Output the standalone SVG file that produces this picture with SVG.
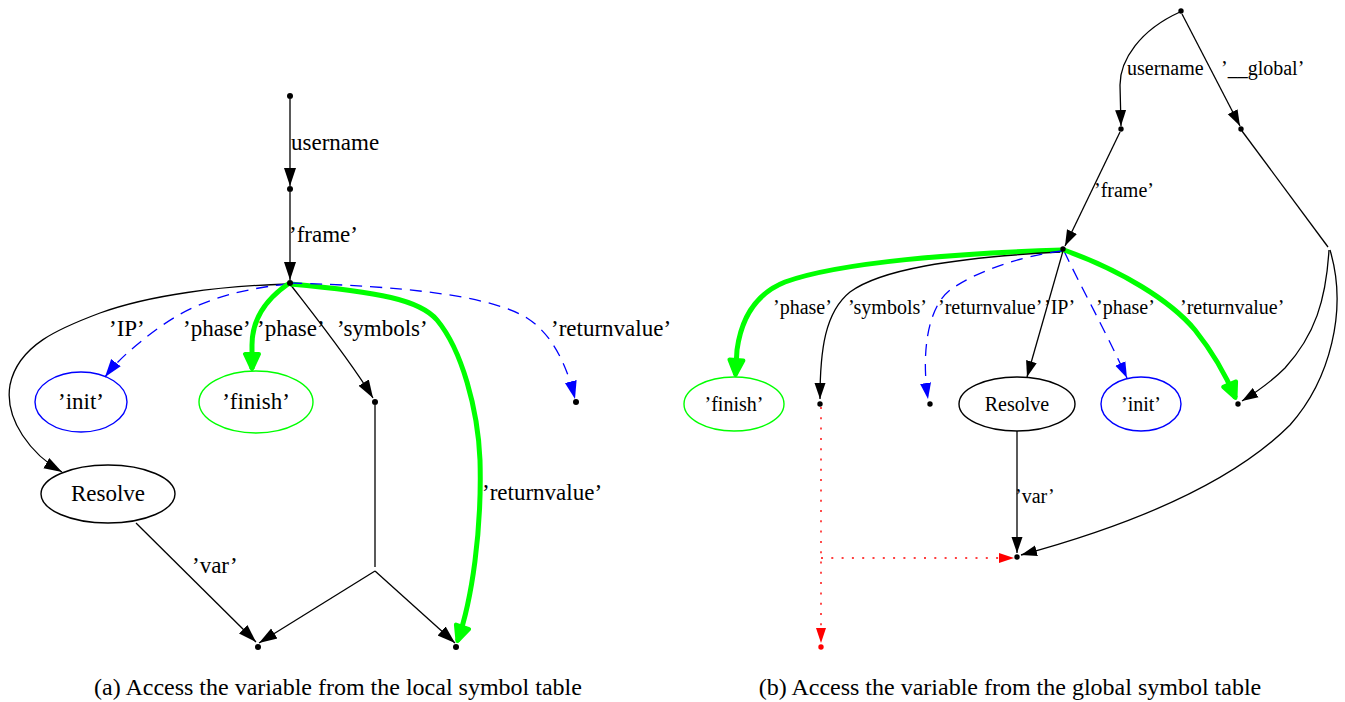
<svg xmlns="http://www.w3.org/2000/svg" width="1345" height="702" viewBox="0 0 1345 702">
  <style>
    text { font-family: "Liberation Serif", "Times New Roman", serif; fill: #000; }
    .l { font-size: 23px; }
    .r { font-size: 20px; }
    .mid { text-anchor: middle; }
    .cap { font-size: 24px; text-anchor: middle; }
    .e { fill: none; stroke: #000; stroke-width: 1.3; }
    .eb { fill: none; stroke: #00f; stroke-width: 1.3; stroke-dasharray: 12 8; }
    .eg { fill: none; stroke: #0f0; stroke-width: 5; }
    .er { fill: none; stroke: #f00; stroke-width: 1.4; stroke-dasharray: 2 8.3; }
    .pt { fill: #000; }
    .ptr { fill: #f00; }
    .nk { fill: none; stroke: #000; stroke-width: 1.4; }
    .nb { fill: none; stroke: #00f; stroke-width: 1.4; }
    .ng { fill: none; stroke: #0f0; stroke-width: 1.4; }
  </style>
  <defs>
    <!-- arrowheads: the path ends at the tip -->
    <marker id="ak" viewBox="0 -7 20 14" markerWidth="20" markerHeight="14" refX="18" refY="0" orient="auto" markerUnits="userSpaceOnUse">
      <path d="M0,-6 L18,0 L0,6 Z" fill="#000"/>
    </marker>
    <marker id="akS" viewBox="0 -6 18 12" markerWidth="18" markerHeight="12" refX="16" refY="0" orient="auto" markerUnits="userSpaceOnUse">
      <path d="M0,-5.5 L16,0 L0,5.5 Z" fill="#000"/>
    </marker>
    <marker id="ab" viewBox="0 -7 20 14" markerWidth="20" markerHeight="14" refX="18" refY="0" orient="auto" markerUnits="userSpaceOnUse">
      <path d="M0,-6 L18,0 L0,6 Z" fill="#00f"/>
    </marker>
    <marker id="abS" viewBox="0 -6 18 12" markerWidth="18" markerHeight="12" refX="16" refY="0" orient="auto" markerUnits="userSpaceOnUse">
      <path d="M0,-5.5 L16,0 L0,5.5 Z" fill="#00f"/>
    </marker>
    <marker id="ag" viewBox="-4 -11 24 22" markerWidth="24" markerHeight="22" refX="15" refY="0" orient="auto" markerUnits="userSpaceOnUse">
      <path d="M0,-7 L15,0 L0,7 Z" fill="#0f0" stroke="#0f0" stroke-width="4" stroke-linejoin="round"/>
    </marker>
    <marker id="ar" viewBox="0 -6 17 12" markerWidth="17" markerHeight="12" refX="15" refY="0" orient="auto" markerUnits="userSpaceOnUse">
      <path d="M0,-5 L15,0 L0,5 Z" fill="#f00"/>
    </marker>
  </defs>

  <!-- ===== (a) local symbol table ===== -->
  <g id="edges-a">
    <path class="e" d="M290,99 L290,186" marker-end="url(#ak)"/>
    <path class="e" d="M290,192 L290,280" marker-end="url(#ak)"/>
    <!-- 'IP' -->
    <path class="e" d="M288,284 C220,286 150,295 100,313 C60,328 18,345 10,385 C4,420 32,455 62,472" marker-end="url(#ak)"/>
    <!-- 'phase' to 'init' -->
    <path class="eb" d="M288,284 C230,290 190,305 160,327 C135,345 118,360 105,377" marker-end="url(#ab)"/>
    <!-- 'phase' to 'finish' -->
    <path class="eg" d="M288,284 C265,300 252,320 252,345 L252,369" marker-end="url(#ag)"/>
    <!-- 'symbols' -->
    <path class="e" d="M290,284 C310,310 350,360 373,398" marker-end="url(#ak)"/>
    <path class="e" d="M375,405 L375,567"/>
    <path class="e" d="M375,571 L259,643" marker-end="url(#ak)"/>
    <path class="e" d="M375,571 L455,643" marker-end="url(#ak)"/>
    <!-- 'var' -->
    <path class="e" d="M136,523 L256,642" marker-end="url(#ak)"/>
    <!-- 'returnvalue' (green) -->
    <path class="eg" d="M290,284 C380,292 420,300 437,320 C462,350 478,410 480,460 C482,530 472,600 457.5,641" marker-end="url(#ag)"/>
    <!-- 'returnvalue' (blue) -->
    <path class="eb" d="M290,283 C400,286 490,295 527,318 C555,336 568,370 575,399" marker-end="url(#ab)"/>
  </g>

  <g id="labels-a" class="l">
    <text x="291" y="150">username</text>
    <text x="289" y="242">’frame’</text>
    <text x="109" y="336">’IP’</text>
    <text x="183" y="336">’phase’</text>
    <text x="257" y="336">’phase’</text>
    <text x="337" y="336">’symbols’</text>
    <text x="551" y="336">’returnvalue’</text>
    <text x="482" y="500">’returnvalue’</text>
    <text x="192" y="573">’var’</text>
  </g>

  <g id="a-p0"><circle class="pt" cx="290" cy="96" r="3"/></g>
  <g id="a-p1"><circle class="pt" cx="290" cy="189" r="3"/></g>
  <g id="a-hub"><circle class="pt" cx="290" cy="283" r="3"/></g>
  <g id="a-init">
    <ellipse class="nb" cx="81" cy="402" rx="46" ry="30"/>
    <text class="l mid" x="81" y="409">’init’</text>
  </g>
  <g id="a-finish">
    <ellipse class="ng" cx="256" cy="402" rx="57" ry="31"/>
    <text class="l mid" x="256" y="409">’finish’</text>
  </g>
  <g id="a-symbols"><circle class="pt" cx="375" cy="402" r="3"/></g>
  <g id="a-retval"><circle class="pt" cx="576" cy="402" r="3"/></g>
  <g id="a-resolve">
    <ellipse class="nk" cx="108" cy="494" rx="67" ry="29"/>
    <text class="l mid" x="108" y="501">Resolve</text>
  </g>
  <g id="a-var"><circle class="pt" cx="258" cy="647" r="3"/></g>
  <g id="a-out"><circle class="pt" cx="456" cy="647" r="3"/></g>

  <text id="caption-a" class="cap" x="338" y="695">(a) Access the variable from the local symbol table</text>

  <!-- ===== (b) global symbol table ===== -->
  <g id="edges-b">
    <path class="e" d="M1180,12 C1140,30 1120,60 1120,85 L1121,126" marker-end="url(#akS)"/>
    <path class="e" d="M1182,14 L1240,126" marker-end="url(#akS)"/>
    <path class="e" d="M1242,131 L1328,247"/>
    <!-- 'frame' -->
    <path class="e" d="M1120,132 L1065,246" marker-end="url(#akS)"/>
    <!-- 'phase' to 'finish' -->
    <path class="eg" d="M1062,250 C960,253 840,262 785,282 C755,294 741,320 737,350 L735.5,375" marker-end="url(#ag)"/>
    <!-- 'symbols' -->
    <path class="e" d="M1060,252 C950,258 880,270 850,292 C825,312 820,350 820,399" marker-end="url(#akS)"/>
    <!-- 'returnvalue' (blue) -->
    <path class="eb" d="M1062,251 C1020,256 975,272 950,290 C925,310 922,360 928,399" marker-end="url(#abS)"/>
    <!-- 'IP' -->
    <path class="e" d="M1063,251 L1027,377" marker-end="url(#akS)"/>
    <!-- 'phase' to 'init' -->
    <path class="eb" d="M1064,251 C1080,285 1105,330 1127,378" marker-end="url(#abS)"/>
    <!-- 'returnvalue' (green) -->
    <path class="eg" d="M1064,250 C1120,270 1170,300 1195,330 C1215,355 1227,378 1235.5,398" marker-end="url(#ag)"/>
    <!-- from the global branch -->
    <path class="e" d="M1329,250 C1326,300 1315,335 1285,368 C1270,383 1255,393 1242,401" marker-end="url(#akS)"/>
    <path class="e" d="M1330,250 C1348,310 1330,380 1290,425 C1240,475 1150,520 1021,555" marker-end="url(#akS)"/>
    <!-- 'var' -->
    <path class="e" d="M1017,431 L1017,553" marker-end="url(#akS)"/>
    <!-- dotted red -->
    <path class="er" d="M821,407 L821,643" marker-end="url(#ar)"/>
    <path class="er" d="M821,558 L1014,558" marker-end="url(#ar)"/>
  </g>

  <g id="labels-b" class="r">
    <text x="1127" y="75">username</text>
    <text x="1221" y="75">’__global’</text>
    <text x="1094" y="197">’frame’</text>
    <text x="773" y="314">’phase’</text>
    <text x="848" y="314">’symbols’</text>
    <text x="938" y="314">’returnvalue’</text>
    <text x="1044" y="314">’IP’</text>
    <text x="1096" y="314">’phase’</text>
    <text x="1180" y="314">’returnvalue’</text>
    <text x="1015" y="503">’var’</text>
  </g>

  <g id="b-top"><circle class="pt" cx="1181" cy="11" r="2.7"/></g>
  <g id="b-user"><circle class="pt" cx="1121" cy="129" r="2.7"/></g>
  <g id="b-global"><circle class="pt" cx="1241" cy="129" r="2.7"/></g>
  <g id="b-hub"><circle class="pt" cx="1063" cy="249" r="2.7"/></g>
  <g id="b-finish">
    <ellipse class="ng" cx="734" cy="404" rx="50" ry="27"/>
    <text class="r mid" x="734" y="411">’finish’</text>
  </g>
  <g id="b-symbols"><circle class="pt" cx="820" cy="404" r="2.7"/></g>
  <g id="b-retval"><circle class="pt" cx="930" cy="404" r="2.7"/></g>
  <g id="b-resolve">
    <ellipse class="nk" cx="1017" cy="404" rx="58" ry="27"/>
    <text class="r mid" x="1017" y="411">Resolve</text>
  </g>
  <g id="b-init">
    <ellipse class="nb" cx="1141" cy="404" rx="40" ry="27"/>
    <text class="r mid" x="1141" y="411">’init’</text>
  </g>
  <g id="b-out"><circle class="pt" cx="1238" cy="404" r="2.7"/></g>
  <g id="b-var"><circle class="pt" cx="1017" cy="557" r="2.7"/></g>
  <g id="b-end"><circle class="ptr" cx="821" cy="647" r="2.7"/></g>

  <text id="caption-b" class="cap" x="1010" y="695">(b) Access the variable from the global symbol table</text>
</svg>
